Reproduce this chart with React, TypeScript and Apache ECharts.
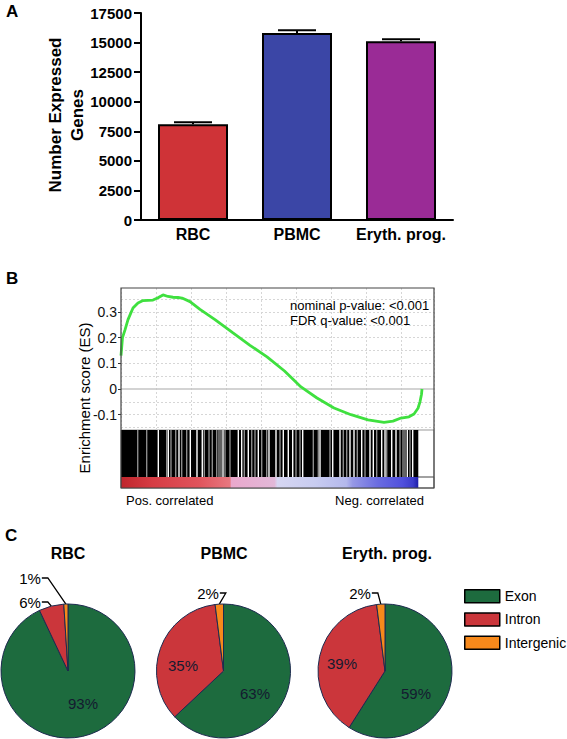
import React, { useEffect, useRef } from 'react';
import * as echarts from 'echarts';

// ---------- Panel A data ----------
const geneCategories = ['RBC', 'PBMC', 'Eryth. prog.'];
const geneCounts = [8100, 15800, 15120];
const geneErrors = [170, 250, 170];
const geneColors = ['#cf3337', '#3b46a6', '#9a2b96'];

// ---------- Panel B data (rank position in % of list, enrichment score) ----------
const esRank = [0, 0.48, 1.28, 2.24, 3.83, 5.43, 7.03, 8.63, 10.22, 11.82, 13.42, 15.02, 16.61, 18.21, 19.49, 22.04, 25.24, 30.03, 35.78, 41.21, 46.65, 52.24, 57.51, 62.62, 68.05, 73.48, 78.91, 84.03, 86.9, 89.46, 92.01, 93.61, 94.89, 95.53, 96.01, 96.17];
const esScore = [0.13, 0.2, 0.23, 0.27, 0.315, 0.335, 0.344, 0.345, 0.346, 0.355, 0.366, 0.36, 0.357, 0.356, 0.354, 0.34, 0.31, 0.27, 0.218, 0.17, 0.125, 0.07, 0.008, -0.035, -0.074, -0.1, -0.12, -0.13, -0.125, -0.113, -0.108, -0.097, -0.075, -0.05, -0.02, 0.0];
const esTickValues = [-0.1, 0, 0.1, 0.2, 0.3];
const esGridLevels = [-0.15, -0.1, -0.05, 0.05, 0.1, 0.15, 0.2, 0.25, 0.3, 0.35];
const barcodeEnd = 94.98;
const barcodeGapWhite = [11.92, 15.11, 18.53, 22.14, 24.28, 25.97, 32.59, 37.48, 38.56, 40.67, 43.87, 47.28, 49.52, 51.85, 53.45, 54.86, 58.05, 63.58, 67.64, 69.97, 73.16, 74.44, 76.9, 79.55, 80.61, 83.29, 84.35, 86.49, 87.86, 91.47, 93.19];
const barcodeGapGray = [5.34, 8.21, 14.6, 15.97, 17.48, 19.39, 20.99, 26.61, 28.12, 29.17, 30.58, 31.31, 31.95, 33.23, 34.82, 39.39, 41.76, 42.81, 44.95, 46.55, 50.8, 55.91, 57.19, 61.44, 63.04, 66.77, 71.02, 72.11, 75.5, 77.96, 81.69, 84.89, 89.14, 90.1, 90.73, 92.33];
const heatStops: [number, string][] = [
  [0, '#bf252c'], [10, '#d63c44'], [25, '#e0545c'], [34.8, '#e87880'], [35.3, '#eaa8cc'], [49, '#e2b8d8'], [50, '#d6d6f2'], [62, '#c8ccf0'], [72, '#b4b8ec'], [74, '#9698e6'], [82, '#6a6ce0'], [90, '#5050dc'], [93.3, '#3c3cca'], [94.98, '#1e1ea8'],
];

// ---------- Panel C data ----------
const pieGroups = ['RBC', 'PBMC', 'Eryth. prog.'];
const regionNames = ['Exon', 'Intron', 'Intergenic'];
const regionColors = ['#1d6b3e', '#cb363b', '#f7891b'];
const rbcShares = [93, 6, 1];
const pbmcShares = [63, 35, 2];
const erythShares = [59, 39, 2];

const FONT = 'Liberation Sans, Arial, Helvetica, sans-serif';

const pieCenters = [[68, 671], [223.5, 671], [385, 671]];
const pieLabelPos = [
  [[83, 703], [30, 602], [30, 578]],
  [[255, 693], [183, 665], [208, 593]],
  [[416, 693], [342, 663], [360, 593]],
];

function makePie(k: number, shares: number[]) {
  return {
    type: 'pie',
    center: pieCenters[k],
    radius: 67,
    startAngle: 90,
    clockwise: true,
    avoidLabelOverlap: false,
    silent: true,
    itemStyle: { borderColor: '#1d2a4f', borderWidth: 1 },
    label: {
      formatter: '{c}%',
      fontFamily: FONT,
      fontSize: 15,
      color: '#000',
    },
    labelLine: { show: true, length: 6, length2: 6, lineStyle: { color: '#000', width: 1.3 } },
    labelLayout: (params: any) => {
      const p = pieLabelPos[k][params.dataIndex];
      const res: any = { x: p[0], y: p[1], align: 'center', verticalAlign: 'middle' };
      if (params.labelLinePoints && shares[params.dataIndex] < 10) {
        const hw = params.labelRect.width / 2;
        res.labelLinePoints = [params.labelLinePoints[0], [p[0] + hw + 7, p[1]], [p[0] + hw + 1, p[1]]];
      }
      return res;
    },
    data: regionNames.map((n, i) => ({
      name: n,
      value: shares[i],
      itemStyle: { color: regionColors[i] },
      label: shares[i] >= 10 ? { position: 'inside', color: '#141a30' } : { position: 'outside' },
      labelLine: { show: shares[i] < 10 },
    })),
  };
}

function buildOption(): any {
  const txt = (text: string, x: number, y: number, font: string, align = 'left', extra: any = {}) => ({
    type: 'text',
    x,
    y,
    z: 100,
    ...extra,
    style: { text, font, fill: '#000', align, verticalAlign: 'middle' },
  });

  return {
    animation: false,
    backgroundColor: '#fff',
    grid: [
      { left: 141, top: 13, width: 312, height: 207 },
      { left: 121, top: 288, width: 313, height: 142 },
      { left: 121, top: 430, width: 313, height: 47, show: true, borderColor: '#999', borderWidth: 1 },
      { left: 121, top: 477, width: 313, height: 11, show: true, borderColor: '#777', borderWidth: 1 },
    ],
    xAxis: [
      {
        gridIndex: 0,
        type: 'category',
        data: geneCategories,
        axisLine: { lineStyle: { color: '#000', width: 2 } },
        axisTick: { alignWithLabel: true, length: 6, lineStyle: { color: '#000', width: 2 } },
        axisLabel: { interval: 0, hideOverlap: false, color: '#000', fontWeight: 'bold', fontSize: 16, fontFamily: FONT, margin: 6 },
      },
      {
        gridIndex: 1, type: 'value', min: 0, max: 100, interval: 11.2,
        axisLine: { show: false }, axisTick: { show: false }, axisLabel: { show: false },
        splitLine: { show: true, lineStyle: { color: '#d6d6d6', type: [2, 2], width: 1 } },
      },
      { gridIndex: 2, type: 'value', min: 0, max: 100, show: false },
      { gridIndex: 3, type: 'value', min: 0, max: 100, show: false },
    ],
    yAxis: [
      {
        gridIndex: 0, type: 'value', min: 0, max: 17500, interval: 2500,
        axisLine: { show: true, lineStyle: { color: '#000', width: 2 } },
        axisTick: { show: true, length: 7, lineStyle: { color: '#000', width: 2 } },
        axisLabel: { color: '#000', fontWeight: 'bold', fontSize: 15, fontFamily: FONT, margin: 9, formatter: (v: number) => String(v) },
        splitLine: { show: false },
      },
      {
        gridIndex: 1, type: 'value', min: -0.1595, max: 0.393,
        axisLine: { show: false },
        axisTick: { show: true, length: 3, customValues: esTickValues, lineStyle: { color: '#333' } },
        axisLabel: {
          customValues: esTickValues, color: '#111', fontSize: 14, fontFamily: FONT, margin: 4,
          formatter: (v: number) => (Math.abs(v) < 1e-9 ? '0' : String(Math.round(v * 10) / 10)),
        },
        splitLine: { show: false },
      },
      { gridIndex: 2, type: 'value', min: 0, max: 1, show: false },
      { gridIndex: 3, type: 'value', min: 0, max: 1, show: false },
    ],
    legend: {
      orient: 'vertical', left: 464, top: 589, itemWidth: 35, itemHeight: 13, itemGap: 8.7, padding: 0,
      icon: 'rect', selectedMode: false,
      itemStyle: { borderColor: '#000', borderWidth: 1.5 },
      textStyle: { fontSize: 14, fontFamily: FONT, color: '#000' },
      data: regionNames,
    },
    series: [
      {
        type: 'bar', xAxisIndex: 0, yAxisIndex: 0, barWidth: 70,
        data: geneCounts.map((v, i) => ({ value: v, itemStyle: { color: geneColors[i] } })),
        itemStyle: { borderColor: '#000', borderWidth: 2 },
      },
      {
        type: 'custom', xAxisIndex: 0, yAxisIndex: 0, z: 5,
        data: geneCounts.map((v, i) => [i, v, v + geneErrors[i]]),
        renderItem: (_p: any, api: any) => {
          const base = api.coord([api.value(0), api.value(1)]);
          const top = api.coord([api.value(0), api.value(2)]);
          return {
            type: 'group',
            children: [
              { type: 'line', shape: { x1: base[0], y1: base[1], x2: top[0], y2: top[1] }, style: { stroke: '#000', lineWidth: 2 } },
              { type: 'line', shape: { x1: top[0] - 19, y1: top[1], x2: top[0] + 19, y2: top[1] }, style: { stroke: '#000', lineWidth: 2 } },
            ],
          };
        },
      },
      {
        type: 'line', xAxisIndex: 1, yAxisIndex: 1, symbol: 'none', z: 10,
        lineStyle: { color: '#3fe03f', width: 2.8 },
        data: esRank.map((r, i) => [r, esScore[i]]),
        markLine: {
          silent: true, symbol: ['none', 'none'], label: { show: false },
          data: [
            ...esGridLevels.map((v) => ({ yAxis: v, lineStyle: { color: '#d6d6d6', type: [2, 2], width: 1 } })),
            { yAxis: 0, lineStyle: { color: '#c4c4c4', type: 'solid', width: 1.5 } },
          ],
        },
      },
      {
        type: 'custom', xAxisIndex: 2, yAxisIndex: 2, silent: true,
        data: [[0, barcodeEnd]],
        renderItem: (_p: any, api: any) => {
          const a = api.coord([api.value(0), 1]);
          const b = api.coord([api.value(1), 0]);
          return { type: 'rect', shape: { x: a[0], y: a[1], width: b[0] - a[0], height: b[1] - a[1] }, style: { fill: '#000' } };
        },
      },
      {
        type: 'custom', xAxisIndex: 2, yAxisIndex: 2, silent: true,
        data: barcodeGapGray.map((v) => [v]),
        renderItem: (_p: any, api: any) => {
          const a = api.coord([api.value(0), 1]);
          const b = api.coord([api.value(0), 0]);
          return { type: 'line', shape: { x1: a[0], y1: a[1], x2: b[0], y2: b[1] }, style: { stroke: '#8c8c8c', lineWidth: 1.4 } };
        },
      },
      {
        type: 'custom', xAxisIndex: 2, yAxisIndex: 2, silent: true,
        data: barcodeGapWhite.map((v) => [v]),
        renderItem: (_p: any, api: any) => {
          const a = api.coord([api.value(0), 1]);
          const b = api.coord([api.value(0), 0]);
          return { type: 'line', shape: { x1: a[0], y1: a[1], x2: b[0], y2: b[1] }, style: { stroke: '#fff', lineWidth: 1.4 } };
        },
      },
      {
        type: 'custom', xAxisIndex: 3, yAxisIndex: 3, silent: true,
        data: [[0, barcodeEnd]],
        renderItem: (_p: any, api: any) => {
          const a = api.coord([api.value(0), 1]);
          const b = api.coord([api.value(1), 0]);
          return {
            type: 'rect',
            shape: { x: a[0], y: a[1], width: b[0] - a[0], height: b[1] - a[1] },
            style: {
              fill: new echarts.graphic.LinearGradient(0, 0, 1, 0,
                heatStops.map(([p, c]) => ({ offset: p / barcodeEnd, color: c }))),
            },
          };
        },
      },
      makePie(0, rbcShares),
      makePie(1, pbmcShares),
      makePie(2, erythShares),
    ],
    graphic: [
      txt('A', 6, 11, `bold 17px ${FONT}`),
      txt('B', 6, 278, `bold 17px ${FONT}`),
      txt('C', 5, 535, `bold 17px ${FONT}`),
      {
        type: 'text', x: 66, y: 115, rotation: Math.PI / 2, z: 100,
        style: { text: 'Number Expressed\nGenes', font: `bold 17px ${FONT}`, lineHeight: 22, fill: '#000', align: 'center', verticalAlign: 'middle' },
      },
      {
        type: 'text', x: 84, y: 398, rotation: Math.PI / 2, z: 100,
        style: { text: 'Enrichment score (ES)', font: `15px ${FONT}`, fill: '#000', align: 'center', verticalAlign: 'middle' },
      },
      txt('nominal p-value: <0.001', 290, 305, `13px ${FONT}`),
      txt('FDR q-value: <0.001', 290, 320, `13px ${FONT}`),
      txt('Pos. correlated', 126, 500, `13px ${FONT}`),
      txt('Neg. correlated', 424, 500, `13px ${FONT}`, 'right'),
      {
        type: 'rect', z: 100, silent: true,
        shape: { x: 121, y: 288, width: 313, height: 200 },
        style: { fill: 'none', stroke: '#444', lineWidth: 1.2 },
      },
      txt(pieGroups[0], 68, 553, `bold 16px ${FONT}`, 'center'),
      txt(pieGroups[1], 224, 553, `bold 16px ${FONT}`, 'center'),
      txt(pieGroups[2], 387, 553, `bold 16px ${FONT}`, 'center'),
    ],
  };
}

export default function App() {
  const ref = useRef<HTMLDivElement>(null);
  useEffect(() => {
    document.body.style.margin = '0';
    const chart = echarts.init(ref.current!, null, { renderer: 'svg' });
    chart.setOption(buildOption());
    return () => chart.dispose();
  }, []);
  return <div ref={ref} style={{ width: 567, height: 739 }} />;
}
